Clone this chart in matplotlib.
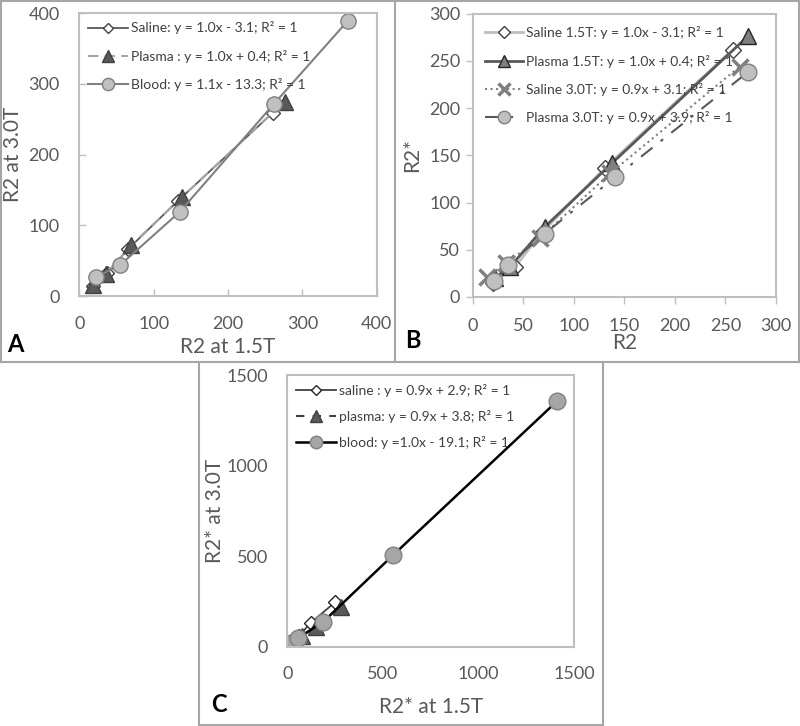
import matplotlib
matplotlib.use("Agg")
import matplotlib.pyplot as plt
from matplotlib.lines import Line2D

plt.rcParams['font.family'] = ['Lato', 'DejaVu Sans']

# Panel A: R2 at 1.5T vs R2 at 3.0T
a_saline_x = [18, 38, 66, 133, 260]
a_saline_y = [14, 33, 67, 135, 259]
a_plasma_x = [19, 36, 70, 138, 276]
a_plasma_y = [16, 32, 72, 140, 275]
a_blood_x = [22, 55, 135, 262, 361]
a_blood_y = [27, 44, 119, 272, 389]

# Panel B: R2 vs R2*
b_sal15_x = [20, 42, 68, 131, 257]
b_sal15_y = [15, 32, 68, 137, 262]
b_pla15_x = [22, 37, 71, 138, 272]
b_pla15_y = [20, 32, 74, 142, 276]
b_sal30_x = [14, 33, 66, 136, 264]
b_sal30_y = [21, 36, 62, 131, 244]
b_pla30_x = [21, 35, 71, 141, 272]
b_pla30_y = [17, 34, 67, 127, 238]

# Panel C: R2* at 1.5T vs R2* at 3.0T
c_saline_x = [14, 30, 62, 122, 250]
c_saline_y = [15, 31, 60, 132, 246]
c_plasma_x = [18, 35, 80, 150, 280]
c_plasma_y = [12, 30, 60, 112, 222]
c_blood_x = [21, 58, 188, 554, 1411]
c_blood_y = [22, 50, 138, 507, 1357]

fig = plt.figure(figsize=(8, 7.26), dpi=100)

tick_col = '#595959'
spine_col = '#bfbfbf'


def style_axes(ax, lim, step, direction, pad):
    ax.set_xlim(0, lim)
    ax.set_ylim(0, lim)
    ax.set_xticks(range(0, lim + 1, step))
    ax.set_yticks(range(0, lim + 1, step))
    for s in ax.spines.values():
        s.set_color(spine_col)
        s.set_linewidth(1.5)
    ax.tick_params(direction=direction, length=5, width=1, color=spine_col,
                   labelsize=13, labelcolor=tick_col)
    ax.tick_params(axis='x', pad=pad[0])
    ax.tick_params(axis='y', pad=pad[1])


# ---- A ----
axA = fig.add_axes([0.099, 0.592, 0.372, 0.390])
axA.plot(a_saline_x, a_saline_y, color='#595959', lw=1.3, marker='D', ms=7,
         mfc='white', mec='#404040', label='Saline: y = 1.0x - 3.1; R² = 1')
axA.plot(a_plasma_x, a_plasma_y, color='#a6a6a6', lw=1.5, ls=(0, (5, 3)), marker='^', ms=11,
         mfc='#595959', mec='#404040', label='Plasma : y = 1.0x + 0.4; R² = 1')
axA.plot(a_blood_x, a_blood_y, color='#808080', lw=1.5, marker='o', ms=11,
         mfc='#c0c0c0', mec='#808080', label='Blood: y = 1.1x - 13.3; R² = 1')
style_axes(axA, 400, 100, 'in', (14, 14))
axA.legend(loc='upper left', frameon=False, fontsize=10, handlelength=2.9,
           labelcolor='#404040', borderaxespad=0.2, labelspacing=1.1,
           handletextpad=0.2, markerscale=0.8)
axA.set_xlabel('R2 at 1.5T', fontsize=15, color=tick_col)
axA.set_ylabel('R2 at 3.0T', fontsize=15, color=tick_col)
axA.xaxis.set_label_coords(0.5, -0.145)
axA.yaxis.set_label_coords(-0.188, 0.5)

# ---- B ----
axB = fig.add_axes([0.591, 0.591, 0.379, 0.390])
axB.plot(b_sal15_x, b_sal15_y, color='#bfbfbf', lw=2, marker='D', ms=8,
         mfc='white', mec='#404040', label='Saline 1.5T: y = 1.0x - 3.1; R² = 1')
axB.plot(b_pla15_x, b_pla15_y, color='#595959', lw=2, marker='^', ms=12,
         mfc='#7f7f7f', mec='#262626', label='Plasma 1.5T: y = 1.0x + 0.4; R² = 1')
axB.plot(b_sal30_x, b_sal30_y, color='#7f7f7f', lw=1.5, ls=':', marker='x', ms=12,
         mew=2.5, mec='#7f7f7f', label='Saline 3.0T: y = 0.9x + 3.1; R² = 1')
axB.plot(b_pla30_x, b_pla30_y, color='#595959', lw=1.5, ls=(0, (7, 5, 1.5, 5)), marker='o', ms=12,
         mfc='#c0c0c0', mec='#808080', label='Plasma 3.0T: y = 0.9x + 3.9; R² = 1')
style_axes(axB, 300, 50, 'out', (10, 4))
axB.legend(loc='upper left', frameon=False, fontsize=10, handlelength=2.7,
           labelcolor='#404040', borderaxespad=0.5, labelspacing=1.1,
           handletextpad=0.2, markerscale=0.75)
axB.set_xlabel('R2', fontsize=15, color=tick_col)
axB.set_ylabel('R2*', fontsize=15, color=tick_col)
axB.xaxis.set_label_coords(0.5, -0.127)
axB.yaxis.set_label_coords(-0.168, 0.5)

# ---- C ----
axC = fig.add_axes([0.359, 0.109, 0.3585, 0.374])
axC.plot(c_saline_x, c_saline_y, color='#404040', lw=1.3, marker='D', ms=7,
         mfc='white', mec='#262626', label='saline : y = 0.9x + 2.9; R² = 1')
axC.plot(c_plasma_x, c_plasma_y, color='#404040', lw=1.5, ls=(0, (4, 4)), marker='^', ms=11,
         mfc='#595959', mec='#404040', label='plasma: y = 0.9x + 3.8; R² = 1')
axC.plot(c_blood_x, c_blood_y, color='black', lw=1.8, marker='o', ms=12,
         mfc='#a6a6a6', mec='#808080', label='blood: y =1.0x - 19.1; R² = 1')
style_axes(axC, 1500, 500, 'in', (14, 14))
axC.tick_params(length=0)
axC.legend(loc='upper left', frameon=False, fontsize=10, handlelength=2.9,
           labelcolor='#404040', borderaxespad=0.2, labelspacing=0.95,
           handletextpad=0.2, markerscale=0.75)
axC.set_xlabel('R2* at 1.5T', fontsize=15, color=tick_col)
axC.set_ylabel('R2* at 3.0T', fontsize=15, color=tick_col)
axC.xaxis.set_label_coords(0.5, -0.184)
axC.yaxis.set_label_coords(-0.216, 0.5)

# panel letters
fig.text(15 / 800, 1 - 344 / 726, 'A', fontsize=17, fontweight='bold', ha='center', va='center')
fig.text(413 / 800, 1 - 341 / 726, 'B', fontsize=17, fontweight='bold', ha='center', va='center')
fig.text(219 / 800, 1 - 705 / 726, 'C', fontsize=17, fontweight='bold', ha='center', va='center')

# panel frames
frame = dict(color='#a6a6a6', lw=1.5, transform=fig.transFigure)
def hline(x0, x1, y):
    fig.add_artist(Line2D([x0 / 800, x1 / 800], [1 - y / 726, 1 - y / 726], **frame))
def vline(x, y0, y1):
    fig.add_artist(Line2D([x / 800, x / 800], [1 - y0 / 726, 1 - y1 / 726], **frame))

hline(0, 800, 1)
hline(0, 800, 362)
vline(1, 1, 362)
vline(799, 1, 362)
vline(395, 1, 362)
hline(199, 603, 725)
vline(199, 362, 725)
vline(603, 362, 725)

fig.savefig('out.png', dpi=100)
